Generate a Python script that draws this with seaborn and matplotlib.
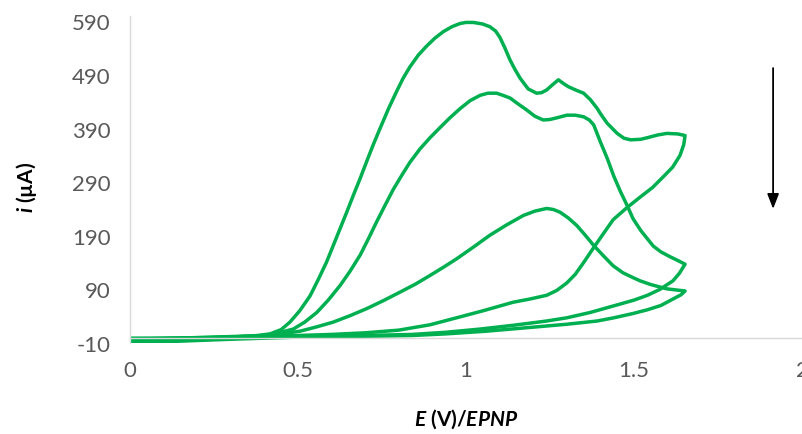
import pandas as pd
import matplotlib.pyplot as plt
import seaborn as sns

# Cyclic voltammograms (E in V, i in uA)
# scan 1 - largest response (forward sweep, then back)
e_scan1 = [0.00, 0.10, 0.20, 0.30, 0.38, 0.417, 0.45, 0.476, 0.505, 0.536, 0.56, 0.585,
           0.605, 0.625, 0.645, 0.665, 0.685, 0.704, 0.724, 0.744, 0.77, 0.794, 0.813,
           0.833, 0.858, 0.883, 0.908, 0.933, 0.958, 0.982, 1.00, 1.022, 1.05, 1.071,
           1.088, 1.101, 1.116, 1.131, 1.146, 1.161, 1.185, 1.21, 1.225, 1.24, 1.258,
           1.275, 1.29, 1.305, 1.33, 1.35, 1.37, 1.39, 1.40, 1.42, 1.45, 1.47, 1.49,
           1.52, 1.54, 1.57, 1.598, 1.63, 1.652,
           1.648, 1.637, 1.615, 1.587, 1.555, 1.518, 1.478, 1.438, 1.41, 1.38, 1.35,
           1.325, 1.30, 1.27, 1.24, 1.19, 1.14, 1.05, 0.99, 0.893, 0.80, 0.70, 0.60,
           0.50, 0.40, 0.20, 0.00]
i_scan1 = [-1, -1, 0, 1, 4, 7, 15, 29, 50, 78, 108, 141,
           172, 203, 234, 266, 297, 328, 360, 390, 428, 460, 484,
           505, 527, 544, 559, 571, 580, 586, 588, 588, 585, 580,
           572, 560, 540, 518, 500, 484, 464, 456, 457, 462, 472,
           481, 474, 468, 461, 456, 444, 428, 418, 400, 381, 372, 369,
           370, 373, 378, 381, 380, 377,
           360, 340, 318, 300, 280, 262, 242, 220, 195, 168, 140,
           118, 102, 88, 79, 72, 66, 50, 40, 24, 14, 9, 6,
           4, 2, -3, -8]

# scan 2 - middle response
e_scan2 = [0.00, 0.20, 0.38, 0.43, 0.486, 0.52, 0.556, 0.59, 0.625, 0.655, 0.685, 0.71,
           0.734, 0.76, 0.784, 0.81, 0.833, 0.863, 0.893, 0.923, 0.952, 0.982, 1.012,
           1.042, 1.065, 1.091, 1.11, 1.131, 1.155, 1.18, 1.205, 1.23, 1.25, 1.27, 1.30,
           1.325, 1.35, 1.367, 1.38, 1.40, 1.42, 1.44, 1.46, 1.48, 1.497, 1.52, 1.557,
           1.58, 1.607, 1.63, 1.652,
           1.635, 1.616, 1.577, 1.54, 1.50, 1.438, 1.37, 1.30, 1.24, 1.14, 1.042, 0.94,
           0.84, 0.70, 0.60, 0.40, 0.20, 0.00]
i_scan2 = [-2, -1, 3, 7, 16, 29, 47, 70, 97, 124, 154, 185,
           216, 248, 277, 304, 327, 352, 373, 392, 410, 427, 442,
           452, 456, 456, 452, 447, 436, 425, 413, 406, 407, 410, 415,
           415, 412, 406, 397, 365, 335, 301, 272, 246, 222, 200, 171,
           160, 151, 144, 137,
           120, 106, 90, 79, 70, 59, 47, 37, 31, 23, 16, 10,
           6, 4, 3, 1, -4, -9]

# scan 3 - smallest response
e_scan3 = [0.00, 0.20, 0.40, 0.45, 0.506, 0.555, 0.605, 0.655, 0.704, 0.754, 0.804, 0.85,
           0.893, 0.932, 0.972, 1.02, 1.071, 1.12, 1.171, 1.205, 1.24, 1.26, 1.28, 1.305,
           1.33, 1.355, 1.38, 1.41, 1.438, 1.467, 1.497, 1.518, 1.55, 1.598, 1.652,
           1.64, 1.616, 1.58, 1.54, 1.497, 1.44, 1.39, 1.30, 1.19, 1.06, 0.94, 0.84,
           0.744, 0.50, 0.30, 0.00]
i_scan3 = [-3, 0, 4, 7, 12, 20, 29, 41, 54, 69, 85, 100,
           116, 131, 147, 168, 191, 210, 228, 236, 241, 239, 234, 223,
           209, 191, 172, 152, 134, 121, 112, 106, 99, 91, 87,
           80, 72, 60, 52, 45, 37, 31, 25, 19, 12, 7, 4,
           3, 1, -3, -10]

y_ticks = [-10, 90, 190, 290, 390, 490, 590]
x_ticks = [0, 0.5, 1, 1.5, 2]
x_tick_labels = ["0", "0.5", "1", "1.5", "2"]

frames = []
for name, e, i in [("1", e_scan1, i_scan1), ("2", e_scan2, i_scan2), ("3", e_scan3, i_scan3)]:
    frames.append(pd.DataFrame({"E": e, "i": i, "scan": name, "step": range(len(e))}))
df = pd.concat(frames, ignore_index=True)

sns.set_style("white")
plt.rcParams["font.family"] = ["Lato", "DejaVu Sans"]
plt.rcParams["mathtext.fontset"] = "custom"
plt.rcParams["mathtext.it"] = "Lato:italic:bold"
plt.rcParams["mathtext.rm"] = "Lato:bold"
plt.rcParams["axes.unicode_minus"] = False

green = "#00B050"
axis_grey = "#D9D9D9"
text_grey = "#595959"

fig = plt.figure(figsize=(8.03, 4.35), dpi=100)
ax = fig.add_axes([130 / 803, 91 / 435, 672 / 803, 327 / 435])

sns.lineplot(data=df, x="E", y="i", units="scan", estimator=None, sort=False,
             color=green, linewidth=2.5, ax=ax)

ax.set_xlim(0, 2)
ax.set_ylim(-10, 600)
ax.set_xticks(x_ticks)
ax.set_xticklabels(x_tick_labels)
ax.set_yticks(y_ticks)

# Excel style: horizontal axis crosses at zero
ax.spines["bottom"].set_position(("data", 0))
for side in ["top", "right"]:
    ax.spines[side].set_visible(False)
for side in ["left", "bottom"]:
    ax.spines[side].set_color(axis_grey)
    ax.spines[side].set_linewidth(1.0)

ax.tick_params(axis="both", which="major", direction="out", length=5, width=1.0,
               color=axis_grey, labelcolor=text_grey, labelsize=16)
ax.tick_params(axis="x", pad=11)
ax.tick_params(axis="y", pad=9)

ax.set_xlabel(r"$E$ (V)/$EPNP$", fontsize=15, fontweight="bold", color="black")
ax.set_ylabel(r"$i$ (µA)", fontsize=15, fontweight="bold", color="black")
ax.xaxis.set_label_coords(0.5, -0.195)
ax.yaxis.set_label_coords(-0.135, 0.48)

# arrow showing the decreasing trend
ax.annotate("", xy=(1.914, 235), xytext=(1.914, 508),
            arrowprops=dict(arrowstyle="-|>,head_length=0.9,head_width=0.35",
                            color="black", lw=1.3))

fig.savefig("out.png", dpi=100)
